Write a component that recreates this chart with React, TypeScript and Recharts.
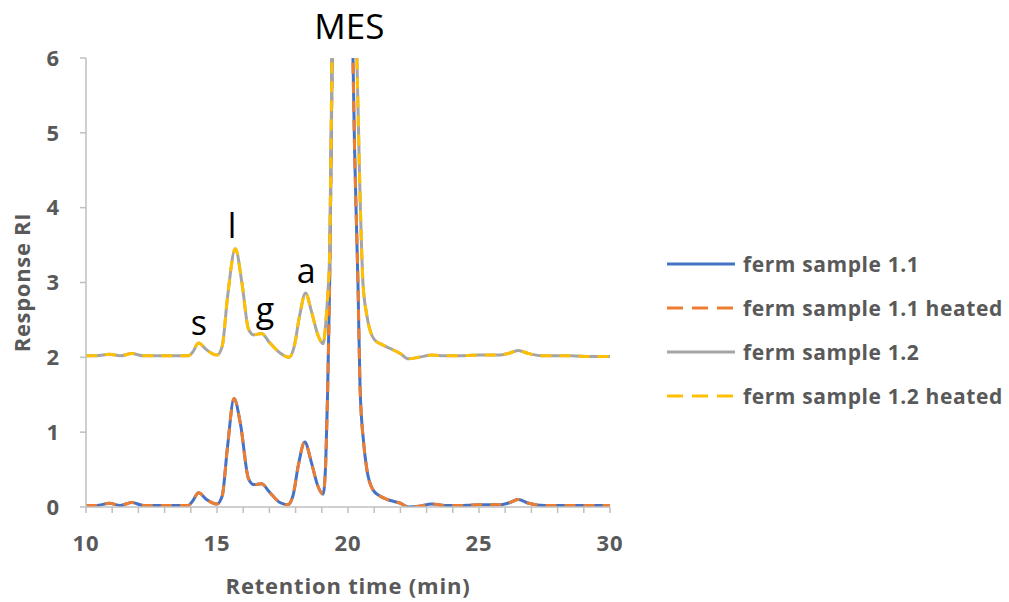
import React from "react";
import {
  LineChart,
  Line,
  XAxis,
  YAxis,
  ReferenceDot,
} from "recharts";

// retention time (min) and RI response
const rt11 = [
  10, 10.4, 10.9, 11.3, 11.75, 12.2, 13, 13.9, 14.05, 14.3, 14.6, 15, 15.2, 15.4, 15.65, 15.9,
  16.2, 16.4, 16.7, 17, 17.4, 17.7, 17.9, 18.1, 18.35, 18.6, 18.85, 19.05, 19.15, 19.22, 19.3,
  19.38, 19.45, 19.6, 19.85, 20.05, 20.15, 20.25, 20.38, 20.46, 20.6, 20.72, 20.95, 21.2, 21.5,
  21.8, 22, 22.3, 22.7, 23.2, 23.7, 24.2, 25, 25.8, 26.1, 26.5, 26.9, 27.5, 28.5, 29.3, 30,
];
const ri11 = [
  0.02, 0.02, 0.05, 0.02, 0.06, 0.02, 0.02, 0.02, 0.07, 0.19, 0.1, 0.04, 0.15, 0.8, 1.45, 1.1,
  0.38, 0.3, 0.31, 0.2, 0.06, 0.03, 0.15, 0.55, 0.87, 0.6, 0.28, 0.17, 0.6, 1.5, 3.0,
  5.5, 8, 11, 13, 9.5, 6.8, 4.8, 3.0, 1.6, 0.85, 0.5, 0.23, 0.15, 0.1,
  0.07, 0.05, 0.0, 0.01, 0.04, 0.02, 0.02, 0.03, 0.03, 0.05, 0.1, 0.05, 0.02, 0.02, 0.02, 0.02,
];
const ri11Heated = [
  0.02, 0.02, 0.05, 0.02, 0.06, 0.02, 0.02, 0.02, 0.07, 0.19, 0.1, 0.04, 0.15, 0.8, 1.45, 1.1,
  0.38, 0.3, 0.31, 0.2, 0.06, 0.03, 0.15, 0.55, 0.87, 0.6, 0.28, 0.17, 0.6, 1.5, 3.0,
  5.5, 8, 11, 13, 9.5, 6.8, 4.8, 3.0, 1.6, 0.85, 0.5, 0.23, 0.15, 0.1,
  0.07, 0.05, 0.0, 0.01, 0.04, 0.02, 0.02, 0.03, 0.03, 0.05, 0.1, 0.05, 0.02, 0.02, 0.02, 0.02,
];

const rt12 = [
  10, 10.4, 10.9, 11.3, 11.75, 12.2, 13, 13.9, 14.05, 14.3, 14.6, 15, 15.2, 15.4, 15.7, 15.95,
  16.2, 16.4, 16.7, 17, 17.4, 17.75, 17.95, 18.15, 18.38, 18.6, 18.85, 19.05, 19.15, 19.22, 19.3,
  19.38, 19.45, 19.6, 19.85, 20.1, 20.25, 20.34, 20.45, 20.57, 20.7, 20.85, 21, 21.3, 21.6,
  22, 22.3, 22.7, 23.2, 23.7, 24.2, 25, 25.8, 26.1, 26.5, 26.9, 27.5, 28.5, 29.3, 30,
];
const ri12 = [
  2.02, 2.02, 2.04, 2.02, 2.05, 2.02, 2.02, 2.02, 2.06, 2.19, 2.1, 2.03, 2.15, 2.8, 3.45, 3.0,
  2.38, 2.3, 2.32, 2.2, 2.06, 2.0, 2.15, 2.55, 2.86, 2.62, 2.3, 2.18, 2.45, 2.8, 3.4,
  5.8, 8.2, 11, 13, 10, 7.5, 6.0, 4.3, 3.0, 2.6, 2.35, 2.24, 2.17, 2.12,
  2.05, 1.98, 2.0, 2.03, 2.02, 2.02, 2.03, 2.03, 2.05, 2.09, 2.05, 2.02, 2.02, 2.01, 2.01,
];
const ri12Heated = [
  2.02, 2.02, 2.04, 2.02, 2.05, 2.02, 2.02, 2.02, 2.06, 2.19, 2.1, 2.03, 2.15, 2.8, 3.45, 3.0,
  2.38, 2.3, 2.32, 2.2, 2.06, 2.0, 2.15, 2.55, 2.86, 2.62, 2.3, 2.18, 2.45, 2.8, 3.4,
  5.8, 8.2, 11, 13, 10, 7.5, 6.0, 4.3, 3.0, 2.6, 2.35, 2.24, 2.17, 2.12,
  2.05, 1.98, 2.0, 2.03, 2.02, 2.02, 2.03, 2.03, 2.05, 2.09, 2.05, 2.02, 2.02, 2.01, 2.01,
];

const xTicks = [10, 11, 12, 13, 14, 15, 16, 17, 18, 19, 20, 21, 22, 23, 24, 25, 26, 27, 28, 29, 30];
const yTicks = [0, 1, 2, 3, 4, 5, 6];

// peak labels: [text, retention time, response at baseline of text]
const peakLabels: [string, number, number][] = [
  ["MES", 20.05, 6.25],
  ["l", 15.57, 3.6],
  ["s", 14.31, 2.3],
  ["g", 16.83, 2.47],
  ["a", 18.4, 2.99],
];

const seriesNames = [
  "ferm sample 1.1",
  "ferm sample 1.1 heated",
  "ferm sample 1.2",
  "ferm sample 1.2 heated",
];

const toPoints = (t: number[], v: number[]) => t.map((x, i) => ({ t: x, v: v[i] }));

const FONT = "'Open Sans', sans-serif";
const GREY = "#595959";
const AXIS = "#BFBFBF";
const DASH = "11 8";

const series = [
  { name: seriesNames[0], data: toPoints(rt11, ri11), color: "#4472C4", dash: undefined },
  { name: seriesNames[1], data: toPoints(rt11, ri11Heated), color: "#ED7D31", dash: DASH },
  { name: seriesNames[2], data: toPoints(rt12, ri12), color: "#A5A5A5", dash: undefined },
  { name: seriesNames[3], data: toPoints(rt12, ri12Heated), color: "#FFC000", dash: DASH },
];

const tickStyle = { fill: GREY, fontSize: 22, fontWeight: 700, fontFamily: FONT, letterSpacing: 1 };

export default function App() {
  return (
    <div style={{ position: "absolute", left: 0, top: 0, width: 1009, height: 602, background: "#fff" }}>
      <LineChart width={1009} height={602} margin={{ top: 58, right: 399, bottom: 35, left: 0 }}>
        <XAxis
          type="number"
          dataKey="t"
          domain={[10, 30]}
          ticks={xTicks}
          interval={0}
          allowDataOverflow
          height={60}
          stroke={AXIS}
          strokeWidth={1.5}
          tickSize={6}
          tickMargin={22}
          tickFormatter={(v: number) => (v % 5 === 0 ? String(v) : "")}
          tick={tickStyle}
          label={{
            content: (p: any) => (
              <text
                x={p.viewBox.x + p.viewBox.width / 2}
                y={p.viewBox.y + 87}
                textAnchor="middle"
                fill={GREY}
                fontSize={22}
                fontWeight={700}
                fontFamily={FONT}
                letterSpacing={0.8}
              >
                Retention time (min)
              </text>
            ),
          }}
        />
        <YAxis
          type="number"
          domain={[0, 6]}
          ticks={yTicks}
          allowDataOverflow
          width={86}
          stroke={AXIS}
          strokeWidth={1.5}
          tickSize={6}
          tickMargin={20}
          tick={tickStyle}
          label={{
            content: (p: any) => {
              const cx = 21;
              const cy = p.viewBox.y + p.viewBox.height / 2;
              return (
                <text
                  x={cx}
                  y={cy}
                  transform={`rotate(-90 ${cx} ${cy})`}
                  textAnchor="middle"
                  dominantBaseline="central"
                  fill={GREY}
                  fontSize={22}
                  fontWeight={700}
                  fontFamily={FONT}
                  letterSpacing={0.7}
                >
                  Response RI
                </text>
              );
            },
          }}
        />
        {series.map((s) => (
          <Line
            key={s.name}
            name={s.name}
            data={s.data}
            dataKey="v"
            type="monotone"
            stroke={s.color}
            strokeWidth={3}
            strokeDasharray={s.dash}
            dot={false}
            activeDot={false}
            isAnimationActive={false}
          />
        ))}
        {peakLabels.map(([txt, t, v]) => (
          <ReferenceDot
            key={txt}
            x={t}
            y={v}
            r={0}
            ifOverflow="visible"
            shape={(p: any) => (
              <text
                x={p.cx}
                y={p.cy}
                textAnchor="middle"
                fill="#000"
                fontSize={txt === "MES" ? 35 : 34}
                fontFamily={FONT}
              >
                {txt}
              </text>
            )}
          />
        ))}
      </LineChart>
      <div style={{ position: "absolute", left: 667, top: 242, fontFamily: FONT }}>
        {series.map((s) => (
          <div key={s.name} style={{ display: "flex", alignItems: "center", height: 44 }}>
            <svg width={68} height={6} style={{ marginRight: 8 }}>
              <line
                x1={0}
                y1={3}
                x2={68}
                y2={3}
                stroke={s.color}
                strokeWidth={3}
                strokeDasharray={s.dash ? "16 9" : undefined}
              />
            </svg>
            <span
              style={{
                fontSize: 21,
                fontWeight: 700,
                color: GREY,
                whiteSpace: "nowrap",
                letterSpacing: 0.6,
              }}
            >
              {s.name}
            </span>
          </div>
        ))}
      </div>
    </div>
  );
}
